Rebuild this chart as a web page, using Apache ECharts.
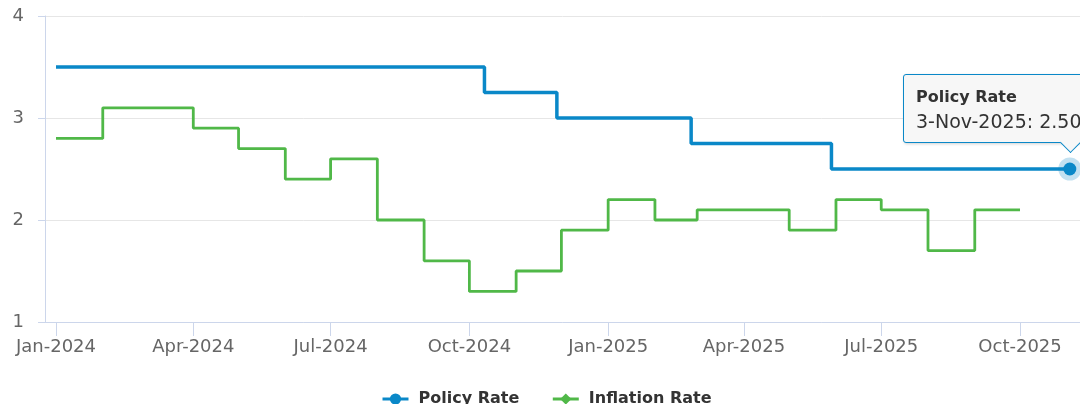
<!DOCTYPE html>
<html>
<head>
<meta charset="utf-8">
<script src="https://cdn.jsdelivr.net/npm/echarts@6/dist/echarts.min.js"></script>
<style>
  html, body { margin: 0; padding: 0; overflow: hidden; background: #fff; }
  #rateChart { width: 1080px; height: 404px; }
</style>
</head>
<body>
<div id="rateChart"></div>
<script>
// policy rate decisions (date the new rate applies from)
var policyDates = ['2024-01-01', '2024-10-11', '2024-11-28', '2025-02-25', '2025-05-29', '2025-11-03'];
var policyRates = [3.5, 3.25, 3.0, 2.75, 2.5, 2.5];

// monthly inflation, last month repeated to close the step
var inflationDates = [
  '2024-01-01', '2024-02-01', '2024-03-01', '2024-04-01', '2024-05-01', '2024-06-01',
  '2024-07-01', '2024-08-01', '2024-09-01', '2024-10-01', '2024-11-01', '2024-12-01',
  '2025-01-01', '2025-02-01', '2025-03-01', '2025-04-01', '2025-05-01', '2025-06-01',
  '2025-07-01', '2025-08-01', '2025-09-01', '2025-10-01'
];
var inflationRates = [
  2.8, 3.1, 3.1, 2.9, 2.7, 2.4,
  2.6, 2.0, 1.6, 1.3, 1.5, 1.9,
  2.2, 2.0, 2.1, 2.1, 1.9, 2.2,
  2.1, 1.7, 2.1, 2.1
];

var tickDates = ['2024-01-01', '2024-04-01', '2024-07-01', '2024-10-01', '2025-01-01', '2025-04-01', '2025-07-01', '2025-10-01'];
var yTicks = [1, 2, 3, 4];

var monthNames = ['Jan', 'Feb', 'Mar', 'Apr', 'May', 'Jun', 'Jul', 'Aug', 'Sep', 'Oct', 'Nov', 'Dec'];

function toTime(s) {
  var p = s.split('-');
  return new Date(+p[0], +p[1] - 1, +p[2]).getTime();
}

var blue = '#0a88c8';
var green = '#50b848';
var axisColor = '#ccd6eb';
var font = 'DejaVu Sans';
var hour = 3600 * 1000;

var policyData = policyDates.map(function (d, i) { return [toTime(d), policyRates[i]]; });
var inflationData = inflationDates.map(function (d, i) { return [toTime(d), inflationRates[i]]; });
var lastPolicy = policyData.length - 1;
var tickTimes = tickDates.map(toTime);

var chartDom = document.getElementById('rateChart');
var myChart = echarts.init(chartDom);
var option;

option = {
  animation: false,
  grid: { left: 45, right: 0, top: 16, bottom: 82 },
  tooltip: {
    trigger: 'item',
    triggerOn: 'none',
    alwaysShowContent: true,
    transitionDuration: 0,
    backgroundColor: '#f7f7f7',
    borderColor: blue,
    borderWidth: 1,
    padding: [10, 12, 9, 12],
    textStyle: { fontFamily: font, fontSize: 16, color: '#333', lineHeight: 24 },
    extraCssText: 'box-shadow: 1px 1px 3px rgba(0,0,0,0.18); border-radius: 3px; line-height: 24px; white-space: nowrap;',
    position: function (point) {
      return [point[0] - 167, point[1] - 95];
    },
    formatter: function (params) {
      var d = new Date(params.value[0]);
      var label = d.getDate() + '-' + monthNames[d.getMonth()] + '-' + d.getFullYear();
      return '<div style="font-weight:bold;font-size:16px">' + params.seriesName + '</div>' +
        '<div style="font-size:19px">' + label + ': ' + params.value[1].toFixed(2) + '</div>' +
        '<div style="position:absolute;left:159px;bottom:-8px;width:14px;height:14px;background:#f7f7f7;' +
        'border-right:1px solid ' + blue + ';border-bottom:1px solid ' + blue + ';transform:rotate(45deg)"></div>';
    }
  },
  legend: {
    left: 376,
    top: 386,
    itemWidth: 26,
    itemHeight: 14,
    itemGap: 32,
    lineStyle: { width: 3 },
    textStyle: { fontFamily: font, fontSize: 16, fontWeight: 'bold', color: '#333', padding: [0, 0, 0, 5] },
    data: ['Policy Rate', 'Inflation Rate']
  },
  xAxis: {
    type: 'value',
    min: toTime('2023-12-24') + 17 * hour,
    max: toTime('2025-11-09') + 18 * hour,
    axisLine: { show: true, lineStyle: { color: axisColor, width: 1 } },
    axisTick: {
      show: true,
      length: 14,
      lineStyle: { color: axisColor },
      customValues: tickTimes
    },
    axisLabel: {
      margin: 16,
      fontFamily: font,
      fontSize: 18,
      color: '#666',
      customValues: tickTimes,
      formatter: function (v) {
        var d = new Date(v);
        return monthNames[d.getMonth()] + '-' + d.getFullYear();
      }
    },
    splitLine: { show: false }
  },
  yAxis: {
    type: 'value',
    min: yTicks[0],
    max: yTicks[yTicks.length - 1],
    interval: 1,
    axisLine: { show: true, lineStyle: { color: axisColor, width: 1 } },
    axisTick: { show: true, length: 7, lineStyle: { color: axisColor } },
    axisLabel: { margin: 21, fontFamily: font, fontSize: 18, color: '#666' },
    splitLine: { show: true, lineStyle: { color: '#e6e6e6', width: 1 } }
  },
  series: [
    {
      name: 'Policy Rate',
      type: 'line',
      step: 'end',
      data: policyData,
      color: blue,
      lineStyle: { width: 3.5, color: blue },
      symbol: 'circle',
      showSymbol: true,
      showAllSymbol: true,
      symbolSize: function (val, params) { return params.dataIndex === lastPolicy ? 13 : 0; },
      itemStyle: { color: blue },
      z: 3,
      markPoint: {
        silent: true,
        symbol: 'circle',
        symbolSize: 23,
        itemStyle: { color: 'rgba(10,136,200,0.25)' },
        label: { show: false },
        data: [{ coord: policyData[lastPolicy] }]
      }
    },
    {
      name: 'Inflation Rate',
      type: 'line',
      step: 'end',
      data: inflationData,
      color: green,
      lineStyle: { width: 2.8, color: green },
      symbol: 'diamond',
      showSymbol: false,
      itemStyle: { color: green },
      z: 2
    }
  ]
};

myChart.setOption(option);
myChart.dispatchAction({ type: 'showTip', seriesIndex: 0, dataIndex: lastPolicy });
</script>
</body>
</html>
